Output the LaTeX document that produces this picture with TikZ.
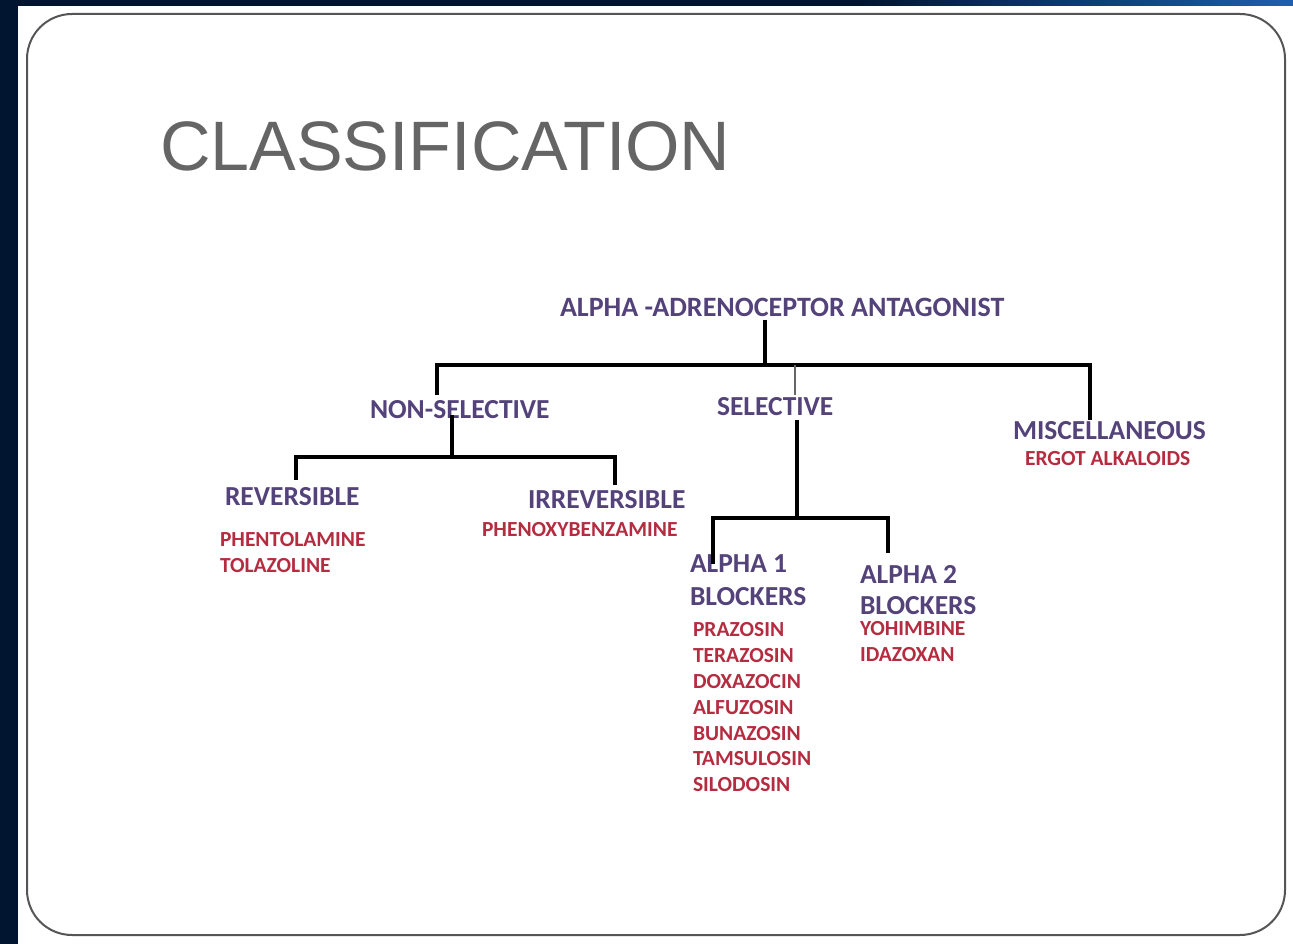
\documentclass[tikz,border=0pt]{standalone}
\usepackage{fontspec}
\setmainfont{Carlito}
\newfontfamily\titlefont{Liberation Sans}
\definecolor{slidebg}{HTML}{011530}
\definecolor{stripblue}{HTML}{9CC3DA}
\definecolor{stripend}{HTML}{1D5FB0}
\definecolor{titlegray}{HTML}{656565}
\definecolor{framegray}{HTML}{555555}
\definecolor{headpurple}{HTML}{54427A}
\definecolor{drugred}{HTML}{B52C40}

\begin{document}
\begin{tikzpicture}[x=1pt, y=-1pt,
    every node/.style={inner sep=0pt, outer sep=0pt, anchor=west},
    head/.style={font=\bfseries\fontsize{27.5}{33}\selectfont, text=headpurple},
    drug/.style={font=\bfseries\fontsize{21.5}{26}\selectfont, text=drugred},
    link/.style={line width=3.3pt, black},
    thinlink/.style={line width=1.8pt, black!60}
]
\useasboundingbox (0,0) rectangle (1293,944);
% slide background
\fill[slidebg] (0,0) rectangle (1293,944);
\shade[left color=slidebg, middle color=stripblue, right color=stripend] (860,0) rectangle (1293,7);
\fill[white] (18,6) rectangle (1293,944);
\draw[framegray, line width=2pt, rounded corners=45pt] (27,14) rectangle (1285,935);

\node[font=\titlefont\fontsize{70}{80}\selectfont, text=titlegray] (title) at (160,146) {CLASSIFICATION};

% headings
\node[head, font=\bfseries\fontsize{28}{33}\selectfont] (root) at (560,307) {ALPHA -ADRENOCEPTOR ANTAGONIST};
\node[head] (nonsel) at (370,410) {NON-SELECTIVE};
\node[head] (sel)    at (717,407) {SELECTIVE};
\node[head] (misc)   at (1013,431) {MISCELLANEOUS};
\node[head] (rev)    at (225,497) {REVERSIBLE};
\node[head] (irrev)  at (528,500) {IRREVERSIBLE};
\node[head] (aone)   at (690,564) {ALPHA 1};
\node[head] (aoneb)  at (690,597) {BLOCKERS};
\node[head] (atwo)   at (860,574) {ALPHA 2};
\node[head] (atwob)  at (860,606) {BLOCKERS};

% drugs
\node[drug] (ergot)   at (1025,459) {ERGOT ALKALOIDS};
\node[drug] (phento)  at (220,540) {PHENTOLAMINE};
\node[drug] (tolaz)   at (220,566) {TOLAZOLINE};
\node[drug] (phenoxy) at (482,530) {PHENOXYBENZAMINE};
\foreach \name [count=\i from 0] in {PRAZOSIN, TERAZOSIN, DOXAZOCIN, ALFUZOSIN, BUNAZOSIN, TAMSULOSIN, SILODOSIN}
    \node[drug] (aonedrug\i) at (693,630+25.8*\i) {\name};
\node[drug] (yohim) at (860,629) {YOHIMBINE};
\node[drug] (idaz)  at (860,655) {IDAZOXAN};

% tree lines
\coordinate (stem)  at (765,365);
\coordinate (barL)  at (437,365);
\coordinate (barR)  at (1090,365);
\coordinate (selJ)  at (795,365);
\draw[link] ([yshift=-4pt]root.south -| stem) -- (stem);
\draw[link] ([yshift=6pt]barL |- nonsel.north) -- (barL) -- (barR) -- ([yshift=2pt]barR |- misc.north);
\draw[thinlink] (selJ) -- ([yshift=3pt]selJ |- sel.north);

\coordinate (nsJ) at (452,457);
\coordinate (nsL) at (296,457);
\coordinate (nsR) at (615,457);
\draw[link] ([yshift=4pt]nonsel.south -| nsJ) -- (nsJ);
\draw[link] ([yshift=8pt]nsL |- rev.north) -- (nsL) -- (nsR) -- ([yshift=6pt]nsR |- irrev.north);

\coordinate (sJ) at (797,518);
\coordinate (sL) at (713,518);
\coordinate (sR) at (888,518);
\draw[link] ([yshift=-4pt]sel.south -| sJ) -- (sJ);
\draw[link] (sL |- aone.center) -- (sL) -- (sR) -- ([yshift=12pt]sR |- atwo.north);
\end{tikzpicture}
\end{document}
